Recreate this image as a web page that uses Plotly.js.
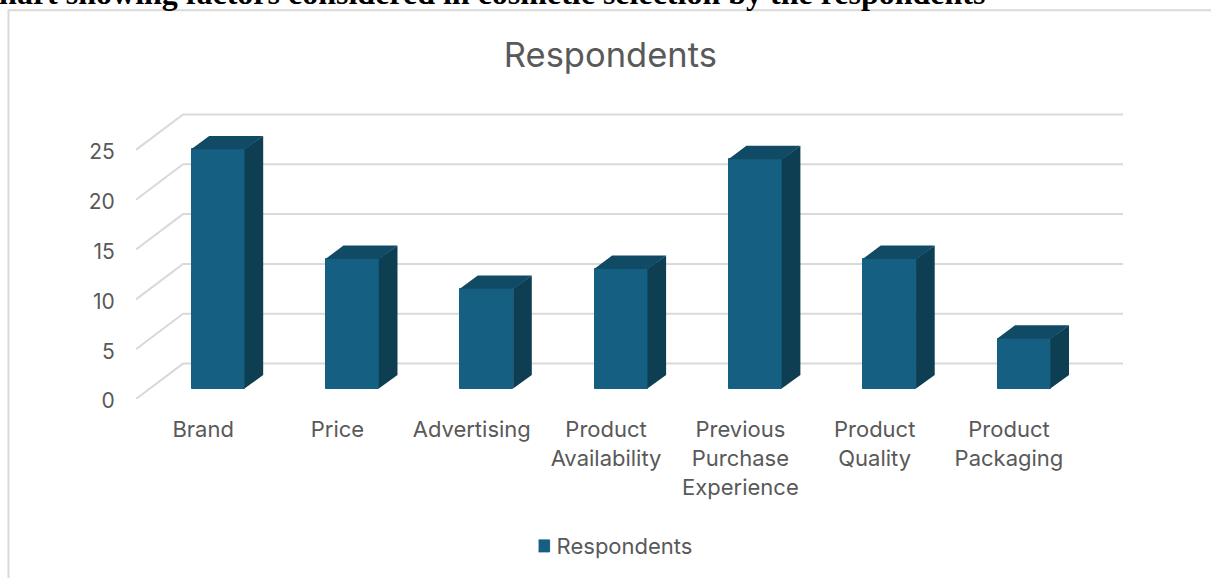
<!DOCTYPE html>
<html>
<head>
<meta charset="utf-8">
<script src="https://cdn.plot.ly/plotly-3.0.1.min.js"></script>
<style>
html,body{margin:0;padding:0;background:#fff;overflow:hidden}
/* Keep the legend label close to its swatch */
.legend .legendtext{transform:translateX(-7px)}
</style>
</head>
<body>
<div id="chart" style="width:1211px;height:578px"></div>
<script>
// Survey results: factors respondents weigh when selecting cosmetics
const categories = [
  ["Brand"], ["Price"], ["Advertising"], ["Product", "Availability"],
  ["Previous", "Purchase", "Experience"], ["Product", "Quality"], ["Product", "Packaging"]
];
const respondents = [24, 13, 10, 12, 23, 13, 5];
const yTicks = [0, 5, 10, 15, 20, 25];
const caption = "Chart showing factors considered in cosmetic selection by the respondents";

// Oblique projection, in axis units
const wallDepth = {x: 0.35, y: 3.55};     // floor front edge to back wall
const barDepth = {x: 0.134, y: 1.35};     // front face to back face of a bar
const barFloor = {x: 0.112, y: 1.05};     // where a bar's front face stands on the floor
const barWidth = 0.402;
const seamOverlap = 0.005;                // side face tucks slightly over the front face edge
const xMin = -0.5, xMax = 6.849;

const colors = {front: "#156082", side: "#0d3e52", top: "#114a65", grid: "#d9d9d9", text: "#595959"};
const fontFamily = "Inter, sans-serif";
const labelSize = 22;

const idx = categories.map((_, i) => i);

// Gridlines sit under every trace: a diagonal on the side wall, then along the back wall
const gridShapes = yTicks.map(t => ({
  type: "path", xref: "x", yref: "y", layer: "below",
  path: `M ${xMin},${t} L ${xMin + wallDepth.x},${t + wallDepth.y} L ${xMax},${t + wallDepth.y}`,
  line: {color: colors.grid, width: 2}
}));

// Side and top faces of the bars, closed polygons separated by gaps
function facePath(face) {
  const xs = [], ys = [];
  idx.forEach(i => {
    const l = i + barFloor.x - barWidth / 2, r = l + barWidth;
    const y0 = barFloor.y, y1 = barFloor.y + respondents[i];
    const dx = barDepth.x, dy = barDepth.y;
    if (face === "side") {
      xs.push(r - seamOverlap, r + dx, r + dx, r - seamOverlap, r - seamOverlap, null);
      ys.push(y0, y0 + dy, y1 + dy, y1, y0, null);
    } else {
      xs.push(l, l + dx, r + dx, r, l, null);
      ys.push(y1, y1 + dy, y1 + dy, y1, y1, null);
    }
  });
  return {xs, ys};
}
const side = facePath("side"), top_ = facePath("top");
const sideFaces = {x: side.xs, y: side.ys, type: "scatter", mode: "lines", fill: "toself",
  fillcolor: colors.side, line: {width: 0, color: colors.side}, hoverinfo: "skip", showlegend: false};
const topFaces = {x: top_.xs, y: top_.ys, type: "scatter", mode: "lines", fill: "toself",
  fillcolor: colors.top, line: {width: 0, color: colors.top}, hoverinfo: "skip", showlegend: false};

// The outline adds half its width each side, so the face is trimmed to suit
const frontWidth = barWidth - 0.0075;
const frontFaces = {
  x: idx, y: respondents, base: idx.map(() => barFloor.y),
  type: "bar", name: "Respondents",
  width: frontWidth, offset: barFloor.x - frontWidth / 2,
  marker: {color: colors.front, line: {color: colors.front, width: 1}},
  showlegend: true
};

// A larger tick font sets the line pitch; the spans set the visible size
const tickText = categories.map(lines =>
  lines.map(s => `<span style="font-size:${labelSize}px">${s}</span>`).join("<br>"));

const frame = {type: "path", xref: "paper", yref: "paper", layer: "below",
  path: "M -0.1292,-0.6 L -0.1292,1.3 L 1.1,1.3", line: {color: colors.grid, width: 2}};

const layout = {
  width: 1211, height: 578,
  margin: {l: 136, r: 88, t: 100, b: 178},
  paper_bgcolor: "#fff", plot_bgcolor: "rgba(0,0,0,0)",
  font: {family: fontFamily, color: colors.text},
  title: {text: "Respondents", font: {size: 34.5, color: colors.text, family: fontFamily},
    x: 0.504, xanchor: "center", y: 0.905, yanchor: "middle"},
  xaxis: {
    range: [xMin, xMax], tickmode: "array", tickvals: idx, ticktext: tickText,
    tickfont: {size: 22, color: colors.text}, tickangle: 0,
    showgrid: false, zeroline: false, showline: false, ticks: "outside", ticklen: 11, tickcolor: "rgba(0,0,0,0)"
  },
  yaxis: {
    range: [0, 30], tickmode: "array", tickvals: yTicks,
    tickfont: {size: 21, color: colors.text},
    showgrid: false, zeroline: false, showline: false,
    ticks: "outside", ticklen: 16, tickcolor: "rgba(0,0,0,0)", ticklabelshift: 2
  },
  bargap: 0,
  showlegend: true,
  legend: {orientation: "h", x: 0.492, xanchor: "center", xref: "paper", y: -0.487, yanchor: "middle",
    indentation: -15, font: {size: labelSize, color: colors.text}, bgcolor: "rgba(0,0,0,0)"},
  shapes: [frame, ...gridShapes],
  annotations: [{text: "<b>" + caption + "</b>", xref: "paper", yref: "paper", x: 0.862, y: 1.29, xanchor: "right", yanchor: "bottom",
    showarrow: false, align: "right", font: {family: "Liberation Serif, serif", size: 32, color: "#000"}, captureevents: false}]
};

Plotly.newPlot("chart", [sideFaces, topFaces, frontFaces], layout, {displayModeBar: false, responsive: false});
</script>
</body>
</html>
